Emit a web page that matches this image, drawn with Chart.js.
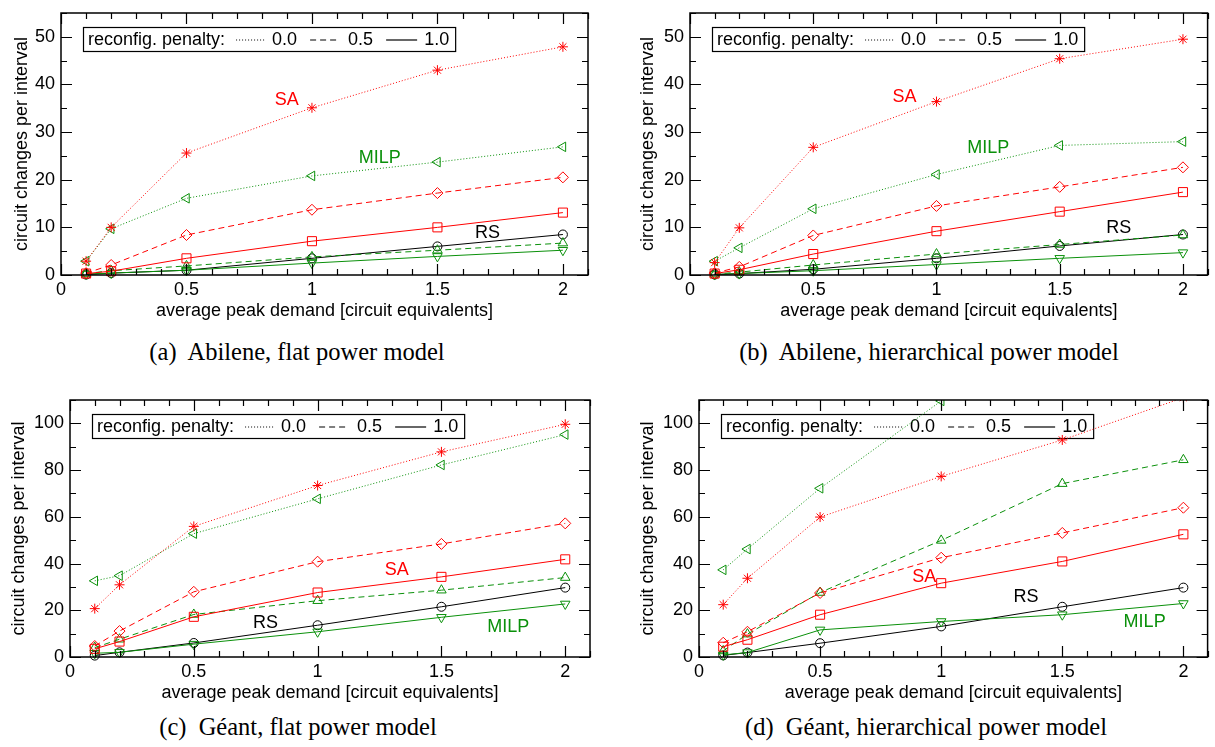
<!DOCTYPE html>
<html lang="en">
<head>
<meta charset="UTF-8" />
<title>Circuit changes per interval</title>
<script src="https://cdn.jsdelivr.net/npm/chart.js"></script>
<style>
  body { margin: 0; background: #fff; width: 1215px; height: 747px; position: relative; overflow: hidden; }
  canvas { position: absolute; }
  .caption {
    position: absolute;
    font-family: "Liberation Serif", "Times New Roman", serif;
    font-size: 24.5px;
    line-height: 1;
    white-space: pre;
    text-align: center;
    width: 600px;
  }
</style>
</head>
<body>
<canvas id="chartA" width="600" height="325" style="left:0px; top:0px"></canvas>
<canvas id="chartB" width="605" height="325" style="left:610px; top:0px"></canvas>
<canvas id="chartC" width="600" height="327" style="left:0px; top:380px"></canvas>
<canvas id="chartD" width="605" height="327" style="left:610px; top:380px"></canvas>

<div class="caption" style="left:-3px; top:340px">(a)  Abilene, flat power model</div>
<div class="caption" style="left:629px; top:340px">(b)  Abilene, hierarchical power model</div>
<div class="caption" style="left:-2px; top:715px">(c)  Géant, flat power model</div>
<div class="caption" style="left:626px; top:715px">(d)  Géant, hierarchical power model</div>

<script>
// x values (average peak demand) shared by every series
const demand = [0.1, 0.2, 0.5, 1, 1.5, 2];
const xTickValues = [0, 0.5, 1, 1.5, 2];
const yTicksAbilene = [0, 10, 20, 30, 40, 50];
const yTicksGeant = [0, 20, 40, 60, 80, 100];

// (a) Abilene, flat power model
const abFlatSA0 = [2.9, 10.0, 25.6, 35.1, 43.0, 47.9];
const abFlatSA05 = [0.4, 2.1, 8.4, 13.7, 17.2, 20.5];
const abFlatSA1 = [0.3, 0.8, 3.5, 7.1, 10.0, 13.1];
const abFlatMILP0 = [2.9, 9.7, 16.1, 20.8, 23.7, 26.9];
const abFlatMILP05 = [0.3, 0.9, 1.9, 3.8, 5.2, 6.7];
const abFlatMILP1 = [0.2, 0.4, 1.0, 2.5, 3.9, 5.2];
const abFlatRS = [0.1, 0.4, 1.0, 3.5, 6.0, 8.5];

// (b) Abilene, hierarchical power model
const abHierSA0 = [2.6, 9.9, 26.8, 36.4, 45.4, 49.5];
const abHierSA05 = [0.4, 1.7, 8.3, 14.5, 18.5, 22.6];
const abHierSA1 = [0.3, 1.1, 4.4, 9.2, 13.3, 17.4];
const abHierMILP0 = [2.9, 5.7, 13.9, 21.1, 27.2, 28.0];
const abHierMILP05 = [0.2, 0.6, 2.1, 4.4, 6.4, 8.4];
const abHierMILP1 = [0.1, 0.3, 0.9, 2.2, 3.5, 4.7];
const abHierRS = [0.1, 0.3, 1.2, 3.5, 6.1, 8.5];

// (c) Geant, flat power model
const geFlatSA0 = [20.7, 30.9, 55.9, 73.4, 87.8, 99.6];
const geFlatSA05 = [4.7, 11.1, 27.9, 40.8, 48.4, 57.2];
const geFlatSA1 = [3.5, 6.6, 17.2, 27.6, 34.3, 41.8];
const geFlatMILP0 = [32.6, 34.8, 52.8, 67.7, 82.2, 95.2];
const geFlatMILP05 = [4.0, 7.6, 18.2, 24.1, 28.6, 34.0];
const geFlatMILP1 = [1.6, 2.0, 5.5, 10.8, 17.0, 22.7];
const geFlatRS = [0.6, 2.0, 6.0, 13.6, 21.5, 29.7];

// (d) Geant, hierarchical power model
const geHierSA0 = [22.4, 33.7, 59.9, 77.3, 92.9, 111];
const geHierSA05 = [6.1, 10.8, 27.4, 42.5, 53.1, 63.9];
const geHierSA1 = [4.4, 7.4, 18.1, 31.6, 40.9, 52.5];
const geHierMILP0 = [37.3, 46.2, 72.2, 109.6, 140, 165];
const geHierMILP05 = [2.6, 9.8, 27.6, 49.9, 74.2, 84.4];
const geHierMILP1 = [0.9, 1.9, 11.6, 15.2, 18.1, 22.9];
const geHierRS = [0.7, 1.9, 5.9, 13.1, 21.5, 29.7];

const RED = "#ff0000";
const GREEN = "#0a900a";
const BLACK = "#000000";
const DOTTED = [1, 2];
const DASHED = [6, 4];
const SOLID = [];

// series order: SA 0.0, SA 0.5, SA 1.0, MILP 0.0, MILP 0.5, MILP 1.0, RS
const seriesStyles = [
    { color: RED, dash: DOTTED, marker: "star", rotation: 0, radius: 5 },
    { color: RED, dash: DASHED, marker: "rectRot", rotation: 0, radius: 5.5 },
    { color: RED, dash: SOLID, marker: "rect", rotation: 0, radius: 6.4 },
    { color: GREEN, dash: DOTTED, marker: "triangle", rotation: -90, radius: 5.5 },
    { color: GREEN, dash: DASHED, marker: "triangle", rotation: 0, radius: 5.5 },
    { color: GREEN, dash: SOLID, marker: "triangle", rotation: 180, radius: 5.5 },
    { color: BLACK, dash: SOLID, marker: "circle", rotation: 0, radius: 4.5 },
];

const panels = [
    {
        id: "chartA",
        series: [abFlatSA0, abFlatSA05, abFlatSA1, abFlatMILP0, abFlatMILP05, abFlatMILP1, abFlatRS],
        yMax: 55, yTicks: yTicksAbilene, yMinor: 5,
        yAxisWidth: 61, yTitlePad: 11.2, padTop: 13, padRight: 12,
        notes: [
            { text: "SA", x: 0.9, y: 36.7, color: RED },
            { text: "MILP", x: 1.27, y: 24.6, color: GREEN },
            { text: "RS", x: 1.7, y: 8.8, color: BLACK },
        ],
    },
    {
        id: "chartB",
        series: [abHierSA0, abHierSA05, abHierSA1, abHierMILP0, abHierMILP05, abHierMILP1, abHierRS],
        yMax: 55, yTicks: yTicksAbilene, yMinor: 5,
        yAxisWidth: 80, yTitlePad: 27.2, padTop: 13, padRight: 2,
        notes: [
            { text: "SA", x: 0.87, y: 37.4, color: RED },
            { text: "MILP", x: 1.21, y: 26.7, color: GREEN },
            { text: "RS", x: 1.74, y: 9.9, color: BLACK },
        ],
    },
    {
        id: "chartC",
        series: [geFlatSA0, geFlatSA05, geFlatSA1, geFlatMILP0, geFlatMILP05, geFlatMILP1, geFlatRS],
        yMax: 110, yTicks: yTicksGeant, yMinor: 10,
        yAxisWidth: 70, yTitlePad: 8.2, padTop: 20, padRight: 10,
        notes: [
            { text: "SA", x: 1.32, y: 37.2, color: RED },
            { text: "RS", x: 0.79, y: 14.6, color: BLACK },
            { text: "MILP", x: 1.77, y: 12.8, color: GREEN },
        ],
    },
    {
        id: "chartD",
        series: [geHierSA0, geHierSA05, geHierSA1, geHierMILP0, geHierMILP05, geHierMILP1, geHierRS],
        yMax: 110, yTicks: yTicksGeant, yMinor: 10,
        yAxisWidth: 89, yTitlePad: 27.2, padTop: 20, padRight: 2,
        notes: [
            { text: "SA", x: 0.93, y: 34.2, color: RED },
            { text: "RS", x: 1.35, y: 25.7, color: BLACK },
            { text: "MILP", x: 1.84, y: 15, color: GREEN },
        ],
    },
];

const FONT = "'Liberation Sans', Arial, sans-serif";

// legend box "reconfig. penalty: ... 0.0 --- 0.5 ___ 1.0", drawn under the data
const penaltyLegend = {
    id: "penaltyLegend",
    beforeDatasetsDraw(chart) {
        const ctx = chart.ctx;
        const area = chart.chartArea;
        const left = area.left + 22;
        const top = area.top + 14;
        const h = 24;
        ctx.save();
        ctx.font = "18px " + FONT;
        const items = [
            { text: "reconfig. penalty:" },
            { gap: 11, line: DOTTED, len: 28 },
            { gap: 8, text: "0.0" },
            { gap: 13, line: DASHED, len: 29 },
            { gap: 9, text: "0.5" },
            { gap: 13, line: SOLID, len: 31 },
            { gap: 7, text: "1.0" },
        ];
        let w = 5;
        items.forEach((it) => {
            w += it.gap || 0;
            w += it.text ? ctx.measureText(it.text).width : it.len;
        });
        w += 6;
        ctx.fillStyle = "#fff";
        ctx.fillRect(left, top, w, h);
        ctx.strokeStyle = "#000";
        ctx.lineWidth = 1.2;
        ctx.strokeRect(Math.round(left) + 0.5, Math.round(top) + 0.5, w, h);
        let x = left + 5;
        const cy = top + h / 2 + 1;
        ctx.fillStyle = "#000";
        ctx.textBaseline = "middle";
        items.forEach((it) => {
            x += it.gap || 0;
            if (it.text) {
                ctx.fillText(it.text, x, cy);
                x += ctx.measureText(it.text).width;
            } else {
                ctx.beginPath();
                ctx.setLineDash(it.line);
                ctx.lineWidth = 1.2;
                ctx.moveTo(x, cy);
                ctx.lineTo(x + it.len, cy);
                ctx.stroke();
                ctx.setLineDash([]);
                x += it.len;
            }
        });
        ctx.restore();
    },
};

// plot frame with inward ticks on all sides, and the SA / MILP / RS labels
const frameTicks = {
    id: "frameTicks",
    afterDatasetsDraw(chart, args, opts) {
        const ctx = chart.ctx;
        const a = chart.chartArea;
        const xs = chart.scales.x;
        const ys = chart.scales.y;
        ctx.save();
        ctx.strokeStyle = "#000";
        ctx.lineWidth = 1.2;
        for (let i = 0; i <= 21; i++) {
            const v = i / 10;
            const px = Math.round(xs.getPixelForValue(v)) + 0.5;
            const len = i % 5 === 0 ? 11 : 6;
            ctx.beginPath();
            ctx.moveTo(px, a.bottom);
            ctx.lineTo(px, a.bottom - len);
            ctx.moveTo(px, a.top);
            ctx.lineTo(px, a.top + len);
            ctx.stroke();
        }
        for (let v = 0; v <= ys.max; v += opts.minor) {
            const py = Math.round(ys.getPixelForValue(v)) + 0.5;
            const len = v % (opts.minor * 2) === 0 ? 11 : 6;
            ctx.beginPath();
            ctx.moveTo(a.left, py);
            ctx.lineTo(a.left + len, py);
            ctx.moveTo(a.right, py);
            ctx.lineTo(a.right - len, py);
            ctx.stroke();
        }
        ctx.lineWidth = 1.5;
        ctx.strokeRect(a.left, a.top, a.right - a.left, a.bottom - a.top);

        ctx.font = "18px " + FONT;
        ctx.textAlign = "center";
        ctx.textBaseline = "middle";
        opts.notes.forEach((n) => {
            ctx.fillStyle = n.color;
            ctx.fillText(n.text, xs.getPixelForValue(n.x), ys.getPixelForValue(n.y));
        });
        ctx.restore();
    },
};

panels.forEach((p) => {
    const datasets = p.series.map((values, i) => {
        const s = seriesStyles[i];
        return {
            data: demand.map((x, j) => ({ x: x, y: values[j] })),
            showLine: true,
            borderColor: s.color,
            borderWidth: 1,
            borderDash: s.dash,
            pointStyle: s.marker,
            pointRotation: s.rotation,
            pointRadius: s.radius,
            pointBorderColor: s.color,
            pointBackgroundColor: "rgba(0,0,0,0)",
            pointBorderWidth: 1,
            clip: { left: false, right: false, top: 0, bottom: false },
        };
    });

    new Chart(document.getElementById(p.id), {
        type: "scatter",
        data: { datasets: datasets },
        options: {
            responsive: false,
            animation: false,
            devicePixelRatio: 1,
            events: [],
            layout: { padding: { top: p.padTop, right: p.padRight, left: 0, bottom: 0 } },
            plugins: {
                legend: { display: false },
                tooltip: { enabled: false },
                frameTicks: { minor: p.yMinor, notes: p.notes },
            },
            scales: {
                x: {
                    type: "linear",
                    min: 0,
                    max: 2.1,
                    grid: { display: false, drawTicks: false },
                    border: { display: false },
                    afterBuildTicks: (s) => {
                        s.ticks = xTickValues.map((v) => ({ value: v }));
                    },
                    afterFit: (s) => {
                        s.height = 50;
                        s.paddingLeft = 0;
                        s.paddingRight = 0;
                    },
                    ticks: {
                        color: "#000",
                        padding: 4,
                        maxRotation: 0,
                        font: { family: FONT, size: 18 },
                        callback: (v) => String(v),
                    },
                    title: {
                        display: true,
                        text: "average peak demand [circuit equivalents]",
                        color: "#000",
                        padding: { top: 4, bottom: 3 },
                        font: { family: FONT, size: 18 },
                    },
                },
                y: {
                    type: "linear",
                    min: 0,
                    max: p.yMax,
                    grid: { display: false, drawTicks: false },
                    border: { display: false },
                    afterBuildTicks: (s) => {
                        s.ticks = p.yTicks.map((v) => ({ value: v }));
                    },
                    afterFit: (s) => {
                        s.width = p.yAxisWidth;
                        s.paddingTop = 0;
                        s.paddingBottom = 0;
                    },
                    ticks: {
                        color: "#000",
                        padding: 6,
                        font: { family: FONT, size: 18 },
                        callback: (v) => String(v),
                    },
                    title: {
                        display: true,
                        text: "circuit changes per interval",
                        color: "#000",
                        padding: { top: p.yTitlePad, bottom: 0 },
                        font: { family: FONT, size: 18 },
                    },
                },
            },
        },
        plugins: [penaltyLegend, frameTicks],
    });
});
</script>
</body>
</html>
